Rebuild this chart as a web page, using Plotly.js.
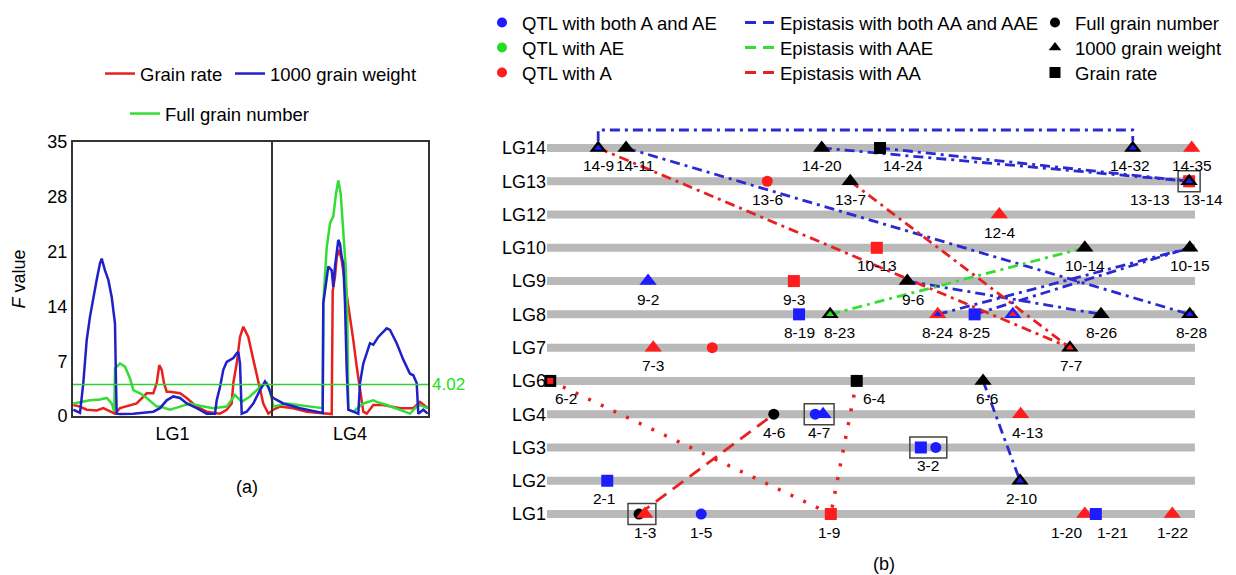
<!DOCTYPE html>
<html><head><meta charset="utf-8">
<script src="https://cdn.plot.ly/plotly-3.0.1.min.js"></script>
<style>body{margin:0;background:#fff}#chart{width:1236px;height:575px}</style>
</head><body><div id="chart"></div>
<script>
// ---------------- Panel (a) data: F value profiles along LG1 | LG4 ----------------
const lgBoundsA = [0, 199, 355];
const lgNamesA = ['LG1', 'LG4'];
const threshold = 4.02;

const posGR = [0.3,7,13.7,23.7,30.3,37,42,47,57,63.7,73.7,80.3,83.7,86.3,88.7,91,93.7,97,107,113.7,123.7,133.7,147,153.7,158.7,160.3,163.7,167,170.3,175.3,180.3,185.3,190.3,195.3,200.3,207,220.3,233.7,253.7,258.7,259.7,262,263.7,266.3,268.7,272,277,280.3,283.7,287,290.3,293.7,300.3,310.3,327,340.3,347,354.7];
const fGR   = [1.4,1.2,0.8,0.7,1.0,0.55,0.3,1.0,1.4,1.6,2.9,2.9,4.2,6.5,5.9,4.2,3.1,3.1,2.9,2.3,1.2,0.55,0.3,0.8,1.6,4.2,6.7,10.1,11.4,10.1,7.2,4.2,1.6,0.3,0.8,1.2,1.0,0.55,0.3,0.25,16.0,17.8,20.3,21.2,19.9,17.0,13.1,9.7,6.3,3.7,0.55,0.3,1.4,1.4,1.0,1.0,1.8,1.0];

const posTGW = [0.3,7,10.3,13.7,17,20.3,23.7,27,28.7,32,35.3,38.7,42,43,43.7,47,60.3,80.3,87,93.7,100.3,107,113.7,123.7,133.7,142,143.7,147,150.3,153.7,160.3,163.7,165.3,167,168.7,173.7,180.3,187,192,195.3,198.7,200.3,210.3,227,247,249.7,250.3,255.3,258.7,260.3,262,265.3,267,268.7,270.3,272,273.7,275.3,280.3,285.3,287,290.3,297,300.3,305.3,313.7,317,323.7,330.3,337,340.3,343.7,345.3,350.3,354.7];
const fTGW   = [0.8,0.4,4.2,9.7,12.7,15.2,17.4,19.5,20.1,18.6,17.4,15.2,11.8,4.2,0.3,0.25,0.3,0.55,1.0,2.0,2.5,2.3,1.6,1.0,0.3,0.3,2.0,3.7,5.9,6.9,7.4,8.0,8.2,6.7,0.3,0.55,1.6,3.3,4.4,3.7,2.5,2.3,1.6,1.0,0.55,0.4,14.4,19.1,18.6,16.5,19.1,22.5,22.0,20.3,19.5,14.4,5.9,0.8,0.55,0.3,4.2,6.7,9.3,9.1,10.1,11.2,11.0,9.3,7.2,5.4,5.2,4.2,0.3,0.8,0.3];

const posFGN = [0.3,7,17,27,33.7,38.7,41.3,42,43.7,47,52,57,60.3,67,73.7,83.7,87,97,107,117,127,140.3,153.7,162,168.7,177,187,193.7,197,200.3,213.7,227,240.3,249.7,250.3,253.7,257,260.3,263,265.3,267.7,270.3,272.7,274.3,275.3,280.3,290.3,300.3,303.7,313.7,327,337,343.7,347,354.7];
const fFGN   = [1.6,1.8,2.0,2.1,2.3,1.6,0.55,6.1,6.3,6.7,6.3,4.8,3.3,2.9,2.3,1.2,1.2,0.8,1.2,1.6,1.3,1.0,1.2,2.7,1.8,2.5,3.7,4.2,3.3,1.2,1.6,1.4,1.2,1.0,14.5,21.5,24.6,25.5,28.4,30.1,28.4,24.1,19.0,13.0,0.8,0.55,1.6,2.0,1.8,1.4,0.8,0.3,1.2,1.4,1.0];

// ---------------- Panel (b) data: QTL map ----------------
const lgNames = ['LG1','LG2','LG3','LG4','LG6','LG7','LG8','LG9','LG10','LG12','LG13','LG14'];
const lgLength = [100,100,100,100,100,100,100,100,100,100,100,100];

const qtlId    = ['14-9','14-11','14-20','14-24','14-32','14-35','13-6','13-7','13-13','13-14','12-4','10-13','10-14','10-15','9-2','9-3','9-6','8-19','8-23','8-24','8-25','8-x','8-26','8-28','7-3','7-x','7-7','6-2','6-4','6-6','4-6','4-7','4-7b','4-13','3-2','3-2b','2-1','2-10','1-3','1-3b','1-5','1-9','1-20','1-21','1-22'];
const qtlLabel = ['14-9','14-11','14-20','14-24','14-32','14-35','13-6','13-7','13-13','13-14','12-4','10-13','10-14','10-15','9-2','9-3','9-6','8-19','8-23','8-24','8-25','','8-26','8-28','7-3','','7-7','6-2','6-4','6-6','4-6','4-7','','4-13','3-2','','2-1','2-10','1-3','','1-5','1-9','1-20','1-21','1-22'];
const qtlLG    = ['LG14','LG14','LG14','LG14','LG14','LG14','LG13','LG13','LG13','LG13','LG12','LG10','LG10','LG10','LG9','LG9','LG9','LG8','LG8','LG8','LG8','LG8','LG8','LG8','LG7','LG7','LG7','LG6','LG6','LG6','LG4','LG4','LG4','LG4','LG3','LG3','LG2','LG2','LG1','LG1','LG1','LG1','LG1','LG1','LG1'];
const qtlPos   = [7.9,12.2,42.4,51.4,90.4,99.5,34.0,46.8,99.1,99.1,69.8,50.9,83.0,99.2,15.6,38.1,55.6,38.9,43.7,60.3,66.0,71.9,85.5,99.2,16.4,25.5,80.7,0.5,47.8,67.3,35.0,41.4,42.6,73.1,57.7,60.0,9.3,73.0,14.2,15.1,23.8,43.8,83.0,84.7,96.5];
const labelPos = [7.9,13.6,42.4,54.9,90.0,99.5,34.0,46.8,93.0,101.2,69.8,50.9,83.0,99.2,15.6,38.1,56.5,38.9,45.2,60.3,66.0,71.9,85.5,99.5,16.4,25.5,80.9,2.9,50.5,67.9,35.0,42.0,42.6,74.2,58.8,60.0,8.8,73.3,15.1,15.1,23.8,43.5,80.2,87.2,96.5];
// trait: FGN = full grain number, TGW = 1000 grain weight, GR = grain rate
const qtlTrait = ['TGW','TGW','TGW','GR','TGW','TGW','FGN','TGW','GR','TGW','TGW','GR','TGW','TGW','TGW','GR','TGW','GR','TGW','TGW','GR','TGW','TGW','TGW','TGW','FGN','TGW','GR','GR','TGW','FGN','FGN','TGW','TGW','GR','FGN','GR','TGW','FGN','TGW','FGN','GR','TGW','GR','TGW'];
// effect: both = A and AE, AE, A, epi = only in epistasis (black)
const qtlEffect = ['epi','epi','epi','epi','epi','A','A','epi','A','epi','A','A','epi','epi','both','A','epi','both','epi','A','both','both','epi','epi','A','A','epi','epi','epi','epi','epi','both','both','A','both','both','both','epi','epi','A','both','A','A','both','A'];
const qtlInner = ['both','','','','both','','','','','both','','','','','','','','','AE','both','','A','','both','','','A','A','','','','','','','','','','both','','','','','','',''];
const boxGroups = [['13-13','13-14'],['4-7','4-7b'],['3-2','3-2b'],['1-3','1-3b']];

const epiFrom  = ['14-9','14-11','14-20','14-24','9-6','8-24','8-25','6-6','8-23','14-9','13-7','6-2','6-4','1-3'];
const epiTo    = ['14-32','8-28','13-14','13-13','8-26','10-15','10-15','2-10','10-14','7-7','7-7','1-9','1-9','4-6'];
const epiType  = ['both','both','both','both','both','both','both','both','AAE','AA','AA','AA','AA','AA'];
const epiTrait = ['TGW','TGW','TGW','TGW','TGW','TGW','TGW','TGW','TGW','TGW','TGW','GR','GR','FGN'];

// ---------------- styles ----------------
const FONT = 'Liberation Sans, Arial, Helvetica, sans-serif';
const C = {blue:'#1c1cff', red:'#ff1c1c', green:'#22dd22', black:'#000000'};
const effColor = {both:C.blue, AE:C.green, A:C.red, epi:C.black};
const lineColor = {both:'#2a2ad2', AAE:'#33dd33', AA:'#e82020'};
const symbolOf = {FGN:'circle', TGW:'triangle-up', GR:'square'};
const sizeOf = {FGN:11, TGW:15, GR:12};
const innerSize = {FGN:5, TGW:7, GR:6};
const dashOf = (type, trait) => type === 'AA' ? ({TGW:'10px,5px,3px,5px', GR:'3px,11px', FGN:'13px,8px'})[trait] : '10px,5px,3px,5px';

const rowOf = lg => lgNames.indexOf(lg);
const idx = id => qtlId.indexOf(id);

const traces = [];
// Panel (a)
traces.push({x:posGR, y:fGR, type:'scatter', mode:'lines', name:'Grain rate', line:{color:'#e8201e', width:2.5}, xaxis:'x', yaxis:'y', legend:'legend', legendwidth:85});
traces.push({x:posFGN, y:fFGN, type:'scatter', mode:'lines', name:'Full grain number', line:{color:'#33dd33', width:2.5}, xaxis:'x', yaxis:'y', legend:'legend5'});
traces.push({x:posTGW, y:fTGW, type:'scatter', mode:'lines', name:'1000 grain weight', line:{color:'#2020c8', width:2.5}, xaxis:'x', yaxis:'y', legend:'legend'});

// Panel (b) chromosome bars
const bx = [], by = [];
lgNames.forEach((lg, i) => { bx.push(0, lgLength[i], null); by.push(i, i, null); });
traces.push({x:bx, y:by, type:'scatter', mode:'lines', line:{color:'#b9b9b9', width:8}, xaxis:'x2', yaxis:'y2', showlegend:false, hoverinfo:'skip'});

// Epistasis lines
epiFrom.forEach((f, k) => {
  const a = idx(f), b = idx(epiTo[k]);
  const ra = rowOf(qtlLG[a]), rb = rowOf(qtlLG[b]);
  let xs, ys;
  if (ra === rb) { xs = [qtlPos[a], qtlPos[a], qtlPos[b], qtlPos[b]]; ys = [ra + 0.2, ra + 0.54, ra + 0.54, ra + 0.2]; }
  else { xs = [qtlPos[a], qtlPos[b]]; ys = [ra, rb]; }
  const w = (epiType[k]==='AA' && epiTrait[k]==='GR') ? 3.5 : 2.8;
  traces.push({x:xs, y:ys, type:'scatter', mode:'lines', line:{color:lineColor[epiType[k]], width:w, dash:dashOf(epiType[k], epiTrait[k])}, xaxis:'x2', yaxis:'y2', showlegend:false, cliponaxis:false, hoverinfo:'skip'});
});

// QTL markers
traces.push({x:qtlPos, y:qtlLG.map(rowOf), type:'scatter', mode:'markers', xaxis:'x2', yaxis:'y2', showlegend:false, cliponaxis:false,
  marker:{symbol:qtlTrait.map(t=>symbolOf[t]), size:qtlTrait.map(t=>sizeOf[t]), color:qtlEffect.map(e=>effColor[e]), opacity:1, line:{width:0}}});
const ii = qtlInner.map((v,i)=>v?i:-1).filter(i=>i>=0);
traces.push({x:ii.map(i=>qtlPos[i]), y:ii.map(i=>rowOf(qtlLG[i])), type:'scatter', mode:'markers', xaxis:'x2', yaxis:'y2', showlegend:false, cliponaxis:false,
  marker:{symbol:ii.map(i=>symbolOf[qtlTrait[i]]), size:ii.map(i=>innerSize[qtlTrait[i]]), color:ii.map(i=>effColor[qtlInner[i]]), opacity:1, line:{width:0}}});

// Legend entries for panel (b) (rows of three columns)
const legRows = [
  [['QTL with both A and AE','m','circle',C.blue], ['Epistasis with both AA and AAE','l','',lineColor.both], ['Full grain number','m','circle',C.black]],
  [['QTL with AE','m','circle',C.green], ['Epistasis with AAE','l','',lineColor.AAE], ['1000 grain weight','m','triangle-up',C.black]],
  [['QTL with A','m','circle',C.red], ['Epistasis with AA','l','',lineColor.AA], ['Grain rate','m','square',C.black]]
];
const colW = [213, 250, 150];
legRows.forEach((row, r) => row.forEach((e, c) => {
  const t = {x:[null], y:[null], type:'scatter', name:e[0], xaxis:'x2', yaxis:'y2', legend:'legend' + (r + 2), legendwidth:colW[c]};
  if (e[1]==='m') { t.mode='markers'; t.marker={symbol:e[2], size:e[2]==='circle'?10:11, color:e[3]}; }
  else { t.mode='lines'; t.line={color:e[3], width:3, dash:'11px,7px'}; }
  traces.push(t);
}));

// annotations: QTL labels
const annotations = [];
qtlLabel.forEach((lab, i) => {
  if (!lab) return;
  annotations.push({x:labelPos[i], y:rowOf(qtlLG[i]), xref:'x2', yref:'y2', yshift:-18, text:lab, showarrow:false, font:{family:FONT, size:15.5, color:'#000'}});
});
annotations.push({x:lgBoundsA[2], y:threshold, xref:'x', yref:'y', xanchor:'left', xshift:2, text:String(threshold), showarrow:false, font:{family:FONT, size:17, color:'#22e022'}});
annotations.push({x:247/1236, y:1-487/575, xref:'paper', yref:'paper', xanchor:'center', yanchor:'middle', text:'(a)', showarrow:false, font:{family:FONT, size:18, color:'#000'}});
annotations.push({x:884/1236, y:1-564/575, xref:'paper', yref:'paper', xanchor:'center', yanchor:'middle', text:'(b)', showarrow:false, font:{family:FONT, size:18, color:'#000'}});

// shapes
const shapes = [];
shapes.push({type:'line', xref:'x', yref:'y', x0:lgBoundsA[1], x1:lgBoundsA[1], y0:0, y1:35, line:{color:'#333', width:2}});
shapes.push({type:'line', xref:'x', yref:'y', x0:lgBoundsA[0], x1:lgBoundsA[2], y0:threshold, y1:threshold, line:{color:'#33cc33', width:1.6}});
boxGroups.forEach(g => {
  const ps = g.map(id => qtlPos[idx(id)]);
  const r = rowOf(qtlLG[idx(g[0])]);
  shapes.push({type:'rect', xref:'x2', yref:'y2', x0:Math.min(...ps)-1.7, x1:Math.max(...ps)+1.7, ysizemode:'pixel', yanchor:r, y0:-10.5, y1:10.5, line:{color:'#444', width:1.5}});
});

const layout = {
  width:1236, height:575, margin:{l:0, r:0, t:0, b:0}, paper_bgcolor:'#fff', plot_bgcolor:'rgba(0,0,0,0)',
  font:{family:FONT, size:18, color:'#000'},
  xaxis:{domain:[73/1236, 428/1236], range:[lgBoundsA[0], lgBoundsA[2]], showgrid:false, zeroline:false, showline:true, mirror:true, linecolor:'#333', linewidth:2, ticks:'',
    tickvals:[(lgBoundsA[0]+lgBoundsA[1])/2, (lgBoundsA[1]+lgBoundsA[2])/2], ticktext:lgNamesA, tickfont:{size:18}},
  yaxis:{domain:[1-416/575, 1-142/575], range:[0,35], showgrid:false, zeroline:false, showline:true, mirror:true, linecolor:'#333', linewidth:2, ticks:'',
    tickvals:[0,7,14,21,28,35], tickfont:{size:18}, title:{text:'<i>F</i> value', font:{size:18}, standoff:17}},
  xaxis2:{domain:[547/1236, 1214.4/1236], range:[0,103], visible:false},
  yaxis2:{domain:[1-534/575, 1-128/575], range:[-0.6, 11.6], showgrid:false, zeroline:false, showline:false, ticks:'',
    tickvals:lgNames.map((_, i)=>i), ticktext:lgNames, tickfont:{size:18}, anchor:'x2'},
  legend:{x:100/1236, y:1-55/575, xanchor:'left', yanchor:'top', orientation:'h', font:{size:18.5}, bgcolor:'rgba(0,0,0,0)'},
  legend5:{x:125/1236, y:1-95/575, xanchor:'left', yanchor:'top', orientation:'h', font:{size:18.5}, bgcolor:'rgba(0,0,0,0)'},
  legend2:{x:482/1236, y:1-4/575, xanchor:'left', yanchor:'top', orientation:'h', font:{size:18.5}, bgcolor:'rgba(0,0,0,0)'},
  legend3:{x:482/1236, y:1-29/575, xanchor:'left', yanchor:'top', orientation:'h', font:{size:18.5}, bgcolor:'rgba(0,0,0,0)'},
  legend4:{x:482/1236, y:1-54/575, xanchor:'left', yanchor:'top', orientation:'h', font:{size:18.5}, bgcolor:'rgba(0,0,0,0)'},
  annotations, shapes
};
Plotly.newPlot('chart', traces, layout, {displayModeBar:false, staticPlot:true});
</script></body></html>
